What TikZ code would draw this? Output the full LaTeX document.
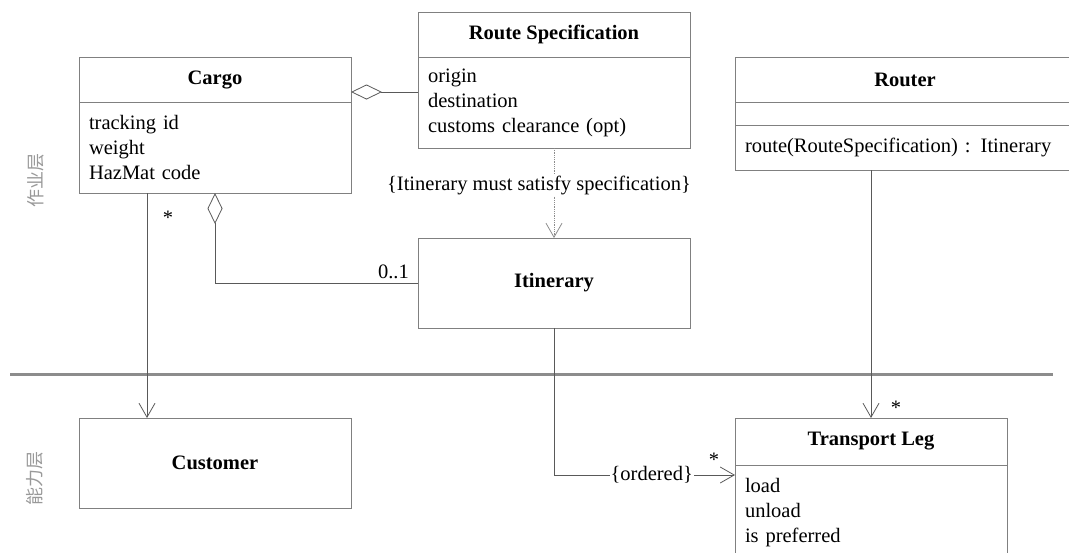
\documentclass[tikz,border=0pt]{standalone}
\usepackage{fontspec}
\setmainfont{Liberation Serif}
\newfontfamily\cjk{Noto Sans CJK SC}
\usetikzlibrary{arrows.meta,positioning}

\begin{document}
\begin{tikzpicture}[x=1pt, y=-1pt,
  font=\fontsize{20.5}{25}\selectfont,
  head/.style={draw=black!50, line width=0.8pt, minimum width=272pt, minimum height=45pt, inner sep=0pt, outer sep=0pt, font=\fontsize{20.5}{25}\selectfont\bfseries},
  attrs/.style={draw=black!50, line width=0.8pt, minimum width=272pt, minimum height=91pt, inner xsep=10pt, inner ysep=0pt, outer sep=0pt, text width=252pt, align=left},
  link/.style={draw=black!65, line width=0.8pt},
  openarrow/.style={-{Straight Barb[length=14pt,width=16pt]}},
  aggr/.style={-{Diamond[open,length=31pt,width=15pt]}},
  layer/.style={font=\cjk\fontsize{18}{18}\selectfont, text=black!40, rotate=90},
  mult/.style={inner sep=1pt}]
\useasboundingbox (0,0) rectangle (1069,552);

% layer names and divider
\node[layer] (oplayer) at (36,180) {作业层};
\node[layer] (caplayer) at (35,478) {能力层};
\draw[line width=3pt, black!45] (10,374) -- (1053,374);

% classes
\node[head] (cargo) at (215,79.5) {Cargo};
\node[attrs, below=0pt of cargo] (cargoattr) {tracking id\\weight\\HazMat code};
\node[head] (spec) at (554,34.5) {Route Specification};
\node[attrs, below=0pt of spec] (specattr) {origin\\destination\\customs clearance (opt)};
\node[head, minimum width=340pt] (router) at (905,79.5) {Router};
\node[attrs, minimum width=340pt, text width=320pt, minimum height=23pt, below=0pt of router] (routerattr) {};
\node[attrs, minimum width=340pt, text width=320pt, minimum height=45pt, below=0pt of routerattr] (routerops) {route(RouteSpecification) : Itinerary};
\node[head, minimum height=90pt] (itin) at (554,283) {Itinerary};
\node[head, minimum height=90pt] (customer) at (215,463) {Customer};
\node[head, minimum height=47pt] (tleg) at (871,441.5) {Transport Leg};
\node[attrs, minimum height=95pt, below=0pt of tleg] (tlegattr) {load\\unload\\is preferred};

% associations
\draw[link, aggr] ([yshift=10.5pt]specattr.west) -- ([yshift=10.5pt]specattr.west -| cargo.east);
\draw[link, aggr] (itin.west) -| (cargoattr.south);
\node[mult, anchor=south east] (itinmult) at ([xshift=-8pt,yshift=3pt]itin.west) {0..1};
\draw[link, openarrow] ([xshift=-68pt]cargoattr.south) -- ([xshift=-68pt]customer.north);
\node[mult] (cargomult) at (168,218) {*};
\draw[link, draw=black!45, densely dotted, openarrow] (specattr.south) -- node[pos=0.42, xshift=-15pt, fill=white, inner sep=1pt] {\{Itinerary must satisfy specification\}} (itin.north);
\draw[link, openarrow] (routerops.south -| tleg.north) -- (tleg.north);
\node[mult] (legmult) at (896,408) {*};
\coordinate (tlegin) at ([yshift=-10pt]tlegattr.north west);
\draw[link, openarrow] (itin.south) |- node[pos=0.77, fill=white, inner sep=1pt] {\{ordered\}} (tlegin);
\node[mult] (ordmult) at (714,460) {*};
\end{tikzpicture}
\end{document}
